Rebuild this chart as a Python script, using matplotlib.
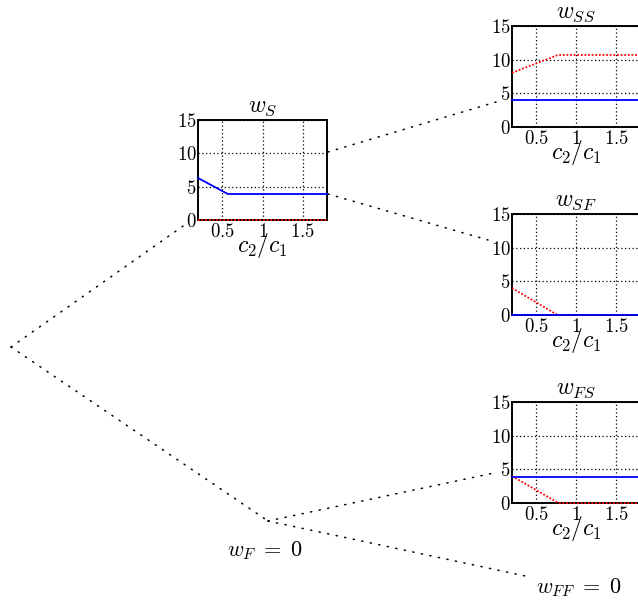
import matplotlib
matplotlib.use("Agg")
import matplotlib.pyplot as plt
from matplotlib.ticker import FixedLocator, FixedFormatter

plt.rcParams["mathtext.fontset"] = "cm"
plt.rcParams["font.family"] = ["DejaVu Serif"]

# ---- data -------------------------------------------------------------
ratio_ticks = [0.5, 1.0, 1.5]
ratio_ticklabels = ["$0.5$", "$1$", "$1.5$"]
w_ticks = [0, 5, 10, 15]
w_ticklabels = ["$0$", "$5$", "$10$", "$15$"]

# w_S panel
ws_x = [0.2, 0.57, 1.8]
ws_blue = [6.3, 3.9, 3.9]
ws_red = [0.0, 0.0, 0.0]

# w_SS panel
wss_x = [0.2, 0.775, 1.8]
wss_blue = [4.0, 4.0, 4.0]
wss_red = [8.05, 10.7, 10.7]

# w_SF panel
wsf_x = [0.2, 0.77, 1.8]
wsf_blue = [0.0, 0.0, 0.0]
wsf_red = [4.0, 0.0, 0.0]

# w_FS panel
wfs_x = [0.2, 0.78, 1.8]
wfs_blue = [3.9, 3.9, 3.9]
wfs_red = [4.0, 0.0, 0.0]

W, H = 638, 607
fig = plt.figure(figsize=(W / 100, H / 100), dpi=100)

# ---- tree skeleton in pixel space ------------------------------------
bg = fig.add_axes([0, 0, 1, 1], zorder=0)
bg.set_xlim(0, W)
bg.set_ylim(H, 0)
bg.axis("off")

root = (11, 347)
node_F = (268, 521)
edges = [
    (root, (186, 224)),
    (root, node_F),
    ((328, 152), (496, 102)),
    ((328, 194), (488, 240)),
    (node_F, (494, 473)),
    (node_F, (530, 577)),
]
for (x0, y0), (x1, y1) in edges:
    bg.plot([x0, x1], [y0, y1], color="black", lw=1.1,
            linestyle=(0, (0.8, 4.9)), dash_capstyle="round")

bg.text(265, 551, r"$w_F\;=\;0$", fontsize=16, ha="center", va="center")
bg.text(579, 588, r"$w_{FF}\;=\;0$", fontsize=16, ha="center", va="center")


def px_rect(left, top, right, bottom):
    return [left / W, 1 - bottom / H, (right - left) / W, (bottom - top) / H]


def panel(rect, title, x, blue, red):
    ax = fig.add_axes(rect, zorder=2)
    ax.plot(x, red, color="red", lw=1.3, linestyle=(0, (1, 1)), zorder=3,
            clip_on=False)
    ax.plot(x, blue, color="blue", lw=1.3, zorder=4, clip_on=False)
    ax.set_xlim(0.2, 1.8)
    ax.set_ylim(0, 15)
    ax.xaxis.set_major_locator(FixedLocator(ratio_ticks))
    ax.xaxis.set_major_formatter(FixedFormatter(ratio_ticklabels))
    ax.yaxis.set_major_locator(FixedLocator(w_ticks))
    ax.yaxis.set_major_formatter(FixedFormatter(w_ticklabels))
    ax.grid(True, color="black", lw=0.9, linestyle=(0, (1, 2)))
    ax.tick_params(direction="in", length=0, labelsize=13.5, pad=2)
    ax.tick_params(axis="y", pad=1)
    for s in ax.spines.values():
        s.set_linewidth(1.4)
    ax.set_title(title, fontsize=17, pad=6)
    ax.set_xlabel(r"$c_2/c_1$", fontsize=17, labelpad=-7)
    ax.patch.set_alpha(0)
    return ax


panel(px_rect(198, 120, 327, 220), r"$w_S$", ws_x, ws_blue, ws_red)
panel(px_rect(512, 26, 640, 127), r"$w_{SS}$", wss_x, wss_blue, wss_red)
panel(px_rect(512, 214, 640, 315), r"$w_{SF}$", wsf_x, wsf_blue, wsf_red)
panel(px_rect(512, 402, 640, 503), r"$w_{FS}$", wfs_x, wfs_blue, wfs_red)

fig.savefig("out.png", dpi=100)
